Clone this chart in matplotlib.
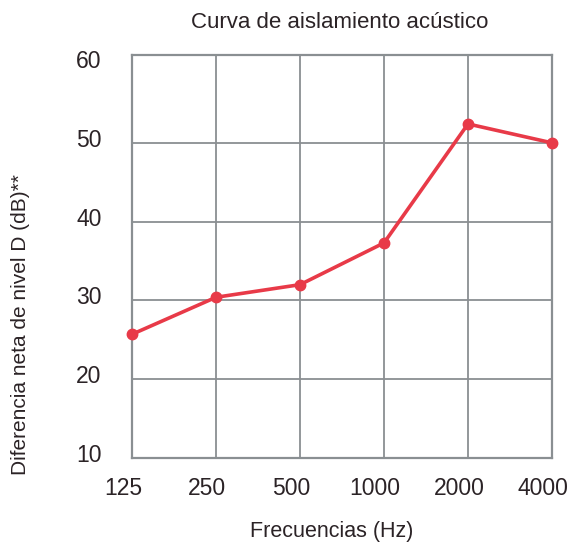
import matplotlib
matplotlib.use("Agg")
import matplotlib.pyplot as plt
import matplotlib.transforms as mtransforms

categories = ["125", "250", "500", "1000", "2000", "4000"]
values = [25.7, 30.4, 32.0, 37.3, 52.4, 50.0]
yticks = [10, 20, 30, 40, 50, 60]

plt.rcParams['font.family'] = ['Liberation Sans', 'DejaVu Sans']
text_color = "#2b2326"
grid_color = "#8a8f92"
line_color = "#e83a48"

fig = plt.figure(figsize=(5.68, 5.44), dpi=100)
ax = fig.add_axes([132/568, 1-458/544, 420/568, 403/544])

x = list(range(len(categories)))
ax.plot(x, values, color=line_color, lw=2.6, marker='o', ms=7.5, zorder=3, clip_on=False)

ax.set_xlim(0, len(categories) - 1)
ax.set_ylim(10, 61.15)
ax.set_xticks(x)
ax.set_xticklabels(categories)
ax.set_yticks(yticks)
ax.grid(True, color=grid_color, lw=1.3)
ax.get_ygridlines()[-1].set_visible(False)
ax.set_axisbelow(True)
for s in ax.spines.values():
    s.set_color(grid_color)
    s.set_linewidth(1.6)
ax.tick_params(length=0, labelsize=16.5, colors=text_color)
ax.tick_params(axis='x', pad=14)
ax.tick_params(axis='y', pad=22)

yoff = mtransforms.ScaledTranslation(0, 5/100, fig.dpi_scale_trans)
for lab in ax.get_yticklabels():
    lab.set_transform(lab.get_transform() + yoff)
xoff = mtransforms.ScaledTranslation(-9/100, 0, fig.dpi_scale_trans)
for lab in ax.get_xticklabels():
    lab.set_transform(lab.get_transform() + xoff)

fig.text(340/568, 1 - 23/544, "Curva de aislamiento acústico",
         ha='center', va='center', fontsize=16, color=text_color)
fig.text(332/568, 1 - 532/544, "Frecuencias (Hz)", ha='center', va='center',
         fontsize=15.5, color=text_color)
fig.text(21/568, 1 - 325/544, "Diferencia neta de nivel D (dB)**", ha='center', va='center',
         rotation=90, fontsize=15, color=text_color)

fig.savefig("out.png", dpi=100)
